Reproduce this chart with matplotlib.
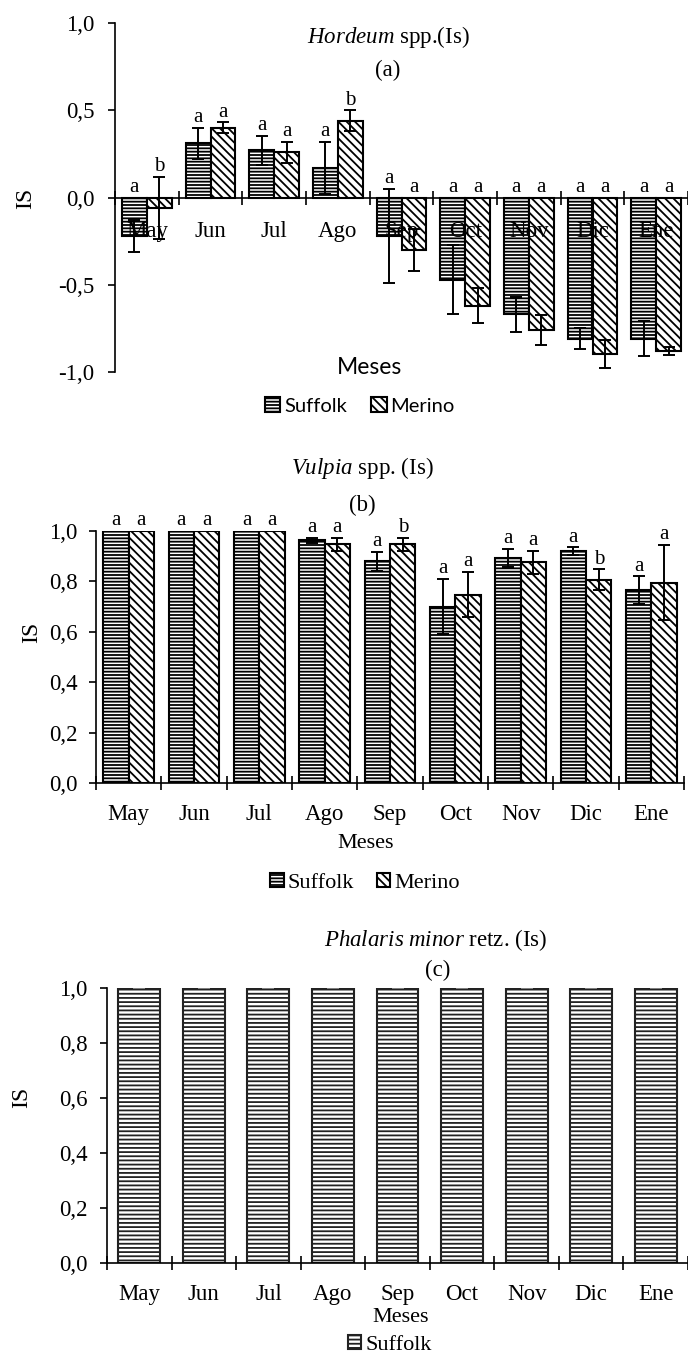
import matplotlib
matplotlib.use("Agg")
import matplotlib.pyplot as plt
import numpy as np

plt.rcParams['font.family'] = 'Liberation Serif'
plt.rcParams['mathtext.fontset'] = 'custom'
plt.rcParams['mathtext.it'] = 'Liberation Serif:italic'
plt.rcParams['mathtext.rm'] = 'Liberation Serif'
plt.rcParams['hatch.linewidth'] = 1.3

W, H = 688, 1355

meses = ["May", "Jun", "Jul", "Ago", "Sep", "Oct", "Nov", "Dic", "Ene"]

# (a) Hordeum spp.
hord_suf = [-0.22, 0.31, 0.27, 0.17, -0.22, -0.47, -0.67, -0.81, -0.81]
hord_suf_err = [0.09, 0.09, 0.085, 0.15, 0.27, 0.20, 0.10, 0.06, 0.10]
hord_mer = [-0.06, 0.40, 0.26, 0.44, -0.30, -0.62, -0.76, -0.895, -0.88]
hord_mer_err = [0.18, 0.03, 0.06, 0.06, 0.12, 0.10, 0.085, 0.08, 0.025]
hord_suf_let = ["a", "a", "a", "a", "a", "a", "a", "a", "a"]
hord_mer_let = ["b", "a", "a", "b", "a", "a", "a", "a", "a"]

# (b) Vulpia spp.
vulp_suf = [1.0, 1.0, 1.0, 0.963, 0.88, 0.70, 0.893, 0.92, 0.765]
vulp_suf_err = [0.0, 0.0, 0.0, 0.01, 0.037, 0.11, 0.037, 0.015, 0.055]
vulp_mer = [1.0, 1.0, 1.0, 0.948, 0.948, 0.748, 0.875, 0.806, 0.795]
vulp_mer_err = [0.0, 0.0, 0.0, 0.026, 0.026, 0.09, 0.045, 0.042, 0.15]
vulp_suf_let = ["a", "a", "a", "a", "a", "a", "a", "a", "a"]
vulp_mer_let = ["a", "a", "a", "a", "b", "a", "a", "b", "a"]

# (c) Phalaris minor
phal_suf = [1.0, 1.0, 1.0, 1.0, 1.0, 1.0, 1.0, 1.0, 1.0]
phal_suf_err = [0.0, 0.0, 0.0, 0.0, 0.0, 0.0, 0.0, 0.0, 0.0]


def fx(px):
    return px / W


def fy(py):
    return 1 - py / H


def axes_px(fig, left, right, top, bottom):
    return fig.add_axes([fx(left), fy(bottom), (right - left) / W, (bottom - top) / H])


def style_x(ax, pad, ypad):
    ax.set_xlim(-0.5, 8.5)
    ax.set_xticks(np.arange(-0.5, 9, 1))
    ax.set_xticklabels([])
    ax.set_xticks(range(9), minor=True)
    ax.set_xticklabels(meses, minor=True)
    ax.tick_params(axis='x', which='major', direction='inout', length=10, width=1.2)
    ax.tick_params(axis='x', which='minor', length=0, pad=pad, labelsize=16.5)
    ax.tick_params(axis='y', direction='out', length=5, width=1.2, pad=ypad, labelsize=16.5)
    for s in ['top', 'right']:
        ax.spines[s].set_visible(False)
    for s in ['left', 'bottom']:
        ax.spines[s].set_linewidth(1.2)


def letters(ax, x, vals, errs, labs):
    for xi, v, e, l in zip(x, vals, errs, labs):
        ax.text(xi, max(v + e, 0) + 0.003, l, ha='center', va='bottom', fontsize=15)


fig = plt.figure(figsize=(W / 100, H / 100), dpi=100)
x = np.arange(9)
bw = 0.39
off = 0.195

# ---------- (a)
ax = axes_px(fig, 115, 688, 23, 372)
b1 = ax.bar(x - off, hord_suf, bw, color='white', edgecolor='black', hatch='-----', linewidth=1.5)
b2 = ax.bar(x + off, hord_mer, bw, color='white', edgecolor='black', hatch='\\\\\\\\', linewidth=1.5)
ax.errorbar(x - off, hord_suf, yerr=hord_suf_err, fmt='none', ecolor='black', elinewidth=1.4, capsize=4, capthick=1.4)
ax.errorbar(x + off, hord_mer, yerr=hord_mer_err, fmt='none', ecolor='black', elinewidth=1.4, capsize=4, capthick=1.4)
letters(ax, x - off, hord_suf, hord_suf_err, hord_suf_let)
letters(ax, x + off, hord_mer, hord_mer_err, hord_mer_let)
ax.set_ylim(-1, 1)
ax.set_yticks([-1, -0.5, 0, 0.5, 1])
ax.set_yticklabels(["-1,0", "-0,5", "0,0", "0,5", "1,0"])
style_x(ax, 17, 10)
ax.spines['bottom'].set_position(('data', 0))
fig.text(fx(388), fy(37), r"$\mathit{Hordeum}$ spp.(Is)", ha='center', va='center', fontsize=16.5)
fig.text(fx(388), fy(70), "(a)", ha='center', va='center', fontsize=16.5)
fig.text(fx(26), fy(198), "IS", ha='center', va='center', rotation=90, fontsize=17)
fig.text(fx(370), fy(367), "Meses", ha='center', va='center', fontsize=16.5, family='Lato')
fig.legend([b1, b2], ["Suffolk", "Merino"], loc='center', bbox_to_anchor=(fx(360), fy(406)),
           ncol=2, frameon=False, handlelength=0.75, handleheight=0.75, handletextpad=0.2,
           columnspacing=1.2, prop={'family': 'Lato', 'size': 14.5})

# ---------- (b)
ax = axes_px(fig, 96, 684, 531, 783)
b1 = ax.bar(x - off, vulp_suf, bw, color='white', edgecolor='black', hatch='-----', linewidth=1.5)
b2 = ax.bar(x + off, vulp_mer, bw, color='white', edgecolor='black', hatch='\\\\\\\\', linewidth=1.5)
ax.errorbar(x - off, vulp_suf, yerr=vulp_suf_err, fmt='none', ecolor='black', elinewidth=1.4, capsize=4, capthick=1.4)
ax.errorbar(x + off, vulp_mer, yerr=vulp_mer_err, fmt='none', ecolor='black', elinewidth=1.4, capsize=4, capthick=1.4)
letters(ax, x - off, vulp_suf, vulp_suf_err, vulp_suf_let)
letters(ax, x + off, vulp_mer, vulp_mer_err, vulp_mer_let)
ax.set_ylim(0, 1)
ax.set_yticks([0, 0.2, 0.4, 0.6, 0.8, 1.0])
ax.set_yticklabels(["0,0", "0,2", "0,4", "0,6", "0,8", "1,0"])
style_x(ax, 15, 8.5)
fig.text(fx(362), fy(468), r"$\mathit{Vulpia}$ spp. (Is)", ha='center', va='center', fontsize=16.5)
fig.text(fx(362), fy(505), "(b)", ha='center', va='center', fontsize=16.5)
fig.text(fx(32), fy(632), "IS", ha='center', va='center', rotation=90, fontsize=17)
fig.text(fx(366), fy(843), "Meses", ha='center', va='center', fontsize=16)
fig.legend([b1, b2], ["Suffolk", "Merino"], loc='center', bbox_to_anchor=(fx(365), fy(883)),
           ncol=2, frameon=False, handlelength=0.6, handleheight=0.6, handletextpad=0.2,
           columnspacing=1.0, prop={'size': 16})

# ---------- (c)
ax = axes_px(fig, 107, 688, 988, 1263)
b1 = ax.bar(x, phal_suf, 0.65, color='white', edgecolor='#222222', hatch='----', linewidth=1.5)
ax.errorbar(x, phal_suf, yerr=phal_suf_err, fmt='none', ecolor='#808080', elinewidth=1.4, capsize=4, capthick=1.4)
ax.set_ylim(0, 1)
ax.set_yticks([0, 0.2, 0.4, 0.6, 0.8, 1.0])
ax.set_yticklabels(["0,0", "0,2", "0,4", "0,6", "0,8", "1,0"])
style_x(ax, 15, 9)
fig.text(fx(436), fy(940), r"$\mathit{Phalaris\ minor}$ retz. (Is)", ha='center', va='center', fontsize=16.5)
fig.text(fx(438), fy(970), "(c)", ha='center', va='center', fontsize=16.5)
fig.text(fx(22), fy(1097), "IS", ha='center', va='center', rotation=90, fontsize=17)
fig.text(fx(401), fy(1318), "Meses", ha='center', va='center', fontsize=16)
fig.legend([b1], ["Suffolk"], loc='center', bbox_to_anchor=(fx(390), fy(1345)),
           frameon=False, handlelength=0.6, handleheight=0.6, handletextpad=0.2,
           prop={'size': 16})

fig.savefig("out.png", dpi=100)
